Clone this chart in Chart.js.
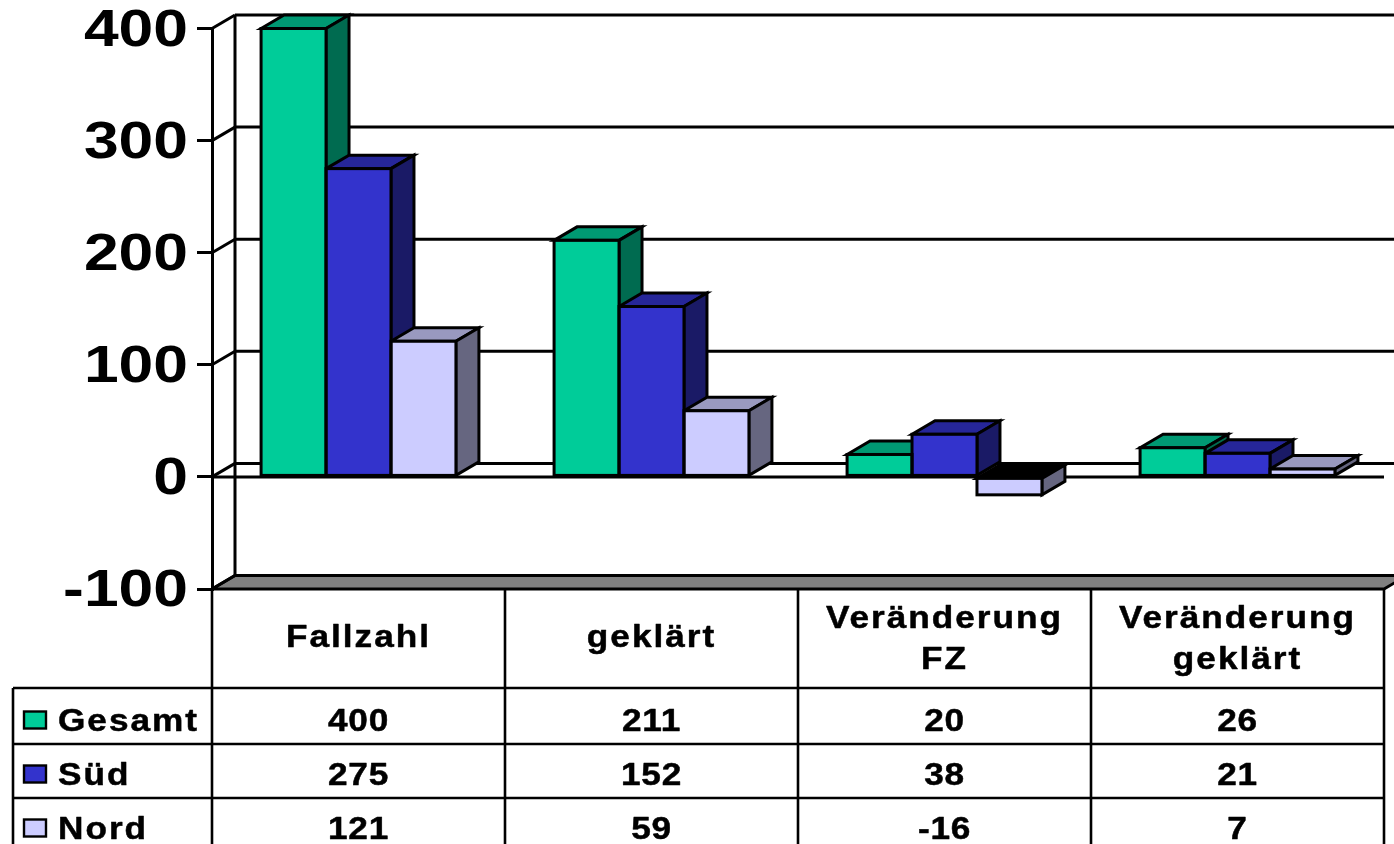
<!DOCTYPE html>
<html>
<head>
<meta charset="utf-8">
<style>html,body{margin:0;padding:0;background:#fff;overflow:hidden}canvas{display:block}</style>
<script src="https://cdn.jsdelivr.net/npm/chart.js@4"></script>
</head>
<body>
<canvas id="c" width="1394" height="844"></canvas>
<script>
const categories = [["Fallzahl"], ["geklärt"], ["Veränderung", "FZ"], ["Veränderung", "geklärt"]];
const seriesNames = ["Gesamt", "Süd", "Nord"];
const gesamt = [400, 211, 20, 26];
const sued = [275, 152, 38, 21];
const nord = [121, 59, -16, 7];
const yTicks = [400, 300, 200, 100, 0, -100];

const frontColors = ["#00CC99", "#3333CC", "#CCCCFF"];
const topColors = ["#009973", "#262699", "#9999BF"];
const sideColors = ["#006B50", "#1A1A66", "#666680"];
const DX = 23, DY = -13.5, LW = 3, W = 1394;
const rowLines = [688, 744, 798];
const rowCentres = [722, 776, 830];

function poly(ctx, pts, fill) {
  ctx.beginPath();
  pts.forEach((p, i) => i ? ctx.lineTo(p[0], p[1]) : ctx.moveTo(p[0], p[1]));
  ctx.closePath();
  if (fill) { ctx.fillStyle = fill; ctx.fill(); }
  ctx.stroke();
}
function line(ctx, x1, y1, x2, y2) {
  ctx.beginPath(); ctx.moveTo(x1, y1); ctx.lineTo(x2, y2); ctx.stroke();
}
function wideText(ctx, text, x, y, align, spacing) {
  ctx.save();
  ctx.font = "bold 32px 'Liberation Sans'";
  ctx.letterSpacing = spacing + "px";
  ctx.textBaseline = "middle";
  ctx.textAlign = "left";
  const sx = 1.1;
  const w = ctx.measureText(text).width * sx;
  ctx.translate(align === "center" ? x - w / 2 : x, y);
  ctx.scale(sx, 1);
  ctx.fillStyle = "#000";
  ctx.strokeStyle = "#000";
  ctx.lineWidth = 0.5;
  ctx.lineJoin = "round";
  ctx.strokeText(text, 0, 0);
  ctx.fillText(text, 0, 0);
  ctx.restore();
}
function barBox(chart, d, i) {
  const el = chart.getDatasetMeta(d).data[i].getProps(["x", "y", "base", "width"], true);
  return {
    l: el.x - el.width / 2, r: el.x + el.width / 2,
    t: Math.min(el.y, el.base), b: Math.max(el.y, el.base)
  };
}

const depthPlugin = {
  id: "depth",
  beforeDatasetsDraw(chart) {
    const ctx = chart.ctx, y = chart.scales.y, a = chart.chartArea;
    ctx.save();
    ctx.strokeStyle = "#000"; ctx.lineWidth = LW; ctx.lineJoin = "miter";
    const floorF = y.getPixelForValue(yTicks[yTicks.length - 1]);
    poly(ctx, [[a.left, floorF], [a.left + DX, floorF + DY], [a.right + DX, floorF + DY], [a.right, floorF]], "#808080");
    line(ctx, a.left + DX, a.top + DY, a.left + DX, floorF + DY);
    yTicks.forEach(v => {
      const p = y.getPixelForValue(v);
      line(ctx, a.left, p, a.left + DX, p + DY);
      if (v !== yTicks[yTicks.length - 1]) line(ctx, a.left + DX, p + DY, W, p + DY);
    });
    const zero = y.getPixelForValue(0);
    line(ctx, a.left, zero, a.right, zero);
    categories.forEach((_, i) => {
      chart.data.datasets.forEach((ds, d) => {
        const { l, r, t, b } = barBox(chart, d, i);
        poly(ctx, [[l, t], [l + DX, t + DY], [r + DX, t + DY], [r, t]], ds.data[i] < 0 ? "#000" : topColors[d]);
        poly(ctx, [[r, t], [r + DX, t + DY], [r + DX, b + DY], [r, b]], sideColors[d]);
      });
    });
    ctx.restore();
  },
  afterDatasetsDraw(chart) {
    const ctx = chart.ctx;
    ctx.save();
    ctx.strokeStyle = "#000"; ctx.lineWidth = LW;
    categories.forEach((_, i) => {
      chart.data.datasets.forEach((ds, d) => {
        const { l, r, t, b } = barBox(chart, d, i);
        ctx.strokeRect(l, t, r - l, b - t);
      });
    });
    ctx.restore();
  },
  afterDraw(chart) {
    const ctx = chart.ctx, x = chart.scales.x, a = chart.chartArea;
    const H = chart.height;
    ctx.save();
    ctx.strokeStyle = "#000"; ctx.lineWidth = 2.6;
    const edges = categories.map((_, i) => a.left + (a.right - a.left) * i / categories.length);
    edges.push(a.right);
    edges.forEach(e => line(ctx, e, a.bottom, e, H));
    rowLines.forEach(r => line(ctx, 13, r, a.right, r));
    line(ctx, 13, rowLines[0], 13, H);
    categories.forEach((lines, i) => {
      const cx = x.getPixelForValue(i);
      if (lines.length === 1) wideText(ctx, lines[0], cx, 638, "center", 1.8);
      else { wideText(ctx, lines[0], cx, 619, "center", 1.8); wideText(ctx, lines[1], cx, 660, "center", 1.8); }
    });
    chart.data.datasets.forEach((ds, d) => {
      const cy = rowCentres[d];
      ctx.lineWidth = 2.4;
      ctx.fillStyle = frontColors[d];
      ctx.fillRect(24, cy - 10.5, 22, 17);
      ctx.strokeRect(24, cy - 10.5, 22, 17);
      wideText(ctx, ds.label, 58, cy, "left", 1.8);
      ds.data.forEach((v, i) => wideText(ctx, String(v), x.getPixelForValue(i), cy, "center", 0.7));
    });
    ctx.restore();
  }
};

new Chart(document.getElementById("c"), {
  type: "bar",
  data: {
    labels: categories.map(c => c.join(" ")),
    datasets: [gesamt, sued, nord].map((vals, d) => ({
      label: seriesNames[d],
      data: vals,
      backgroundColor: frontColors[d],
      borderWidth: 0,
      clip: false,
      categoryPercentage: 0.665,
      barPercentage: 1
    }))
  },
  options: {
    responsive: false,
    animation: false,
    layout: { padding: { left: 0, right: 10, top: 28.5, bottom: 255 } },
    plugins: { legend: { display: false }, tooltip: { enabled: false }, title: { display: false } },
    scales: {
      x: { display: false },
      y: {
        min: -100, max: 400,
        afterBuildTicks(s) { s.ticks = yTicks.map(v => ({ value: v })); },
        afterFit(s) {
          s.width = 212;
          s.paddingTop = 0;
          s.paddingBottom = 0;
          if (!s._wide) {
            s._wide = true;
            const orig = s.drawLabels.bind(s);
            s.drawLabels = function (area) {
              const c = s.ctx;
              c.save(); c.translate(188, 3); c.scale(1.2, 1); c.translate(-188, 0);
              orig(area);
              c.restore();
            };
          }
        },
        grid: { drawOnChartArea: false, drawTicks: true, tickLength: 15, color: "#000", lineWidth: 3 },
        border: { color: "#000", width: 3 },
        ticks: {
          color: "#000", padding: 9, autoSkip: false,
          font: { family: "'Liberation Sans'", size: 52, weight: "bold" }
        }
      }
    }
  },
  plugins: [depthPlugin]
});
</script>
</body>
</html>
